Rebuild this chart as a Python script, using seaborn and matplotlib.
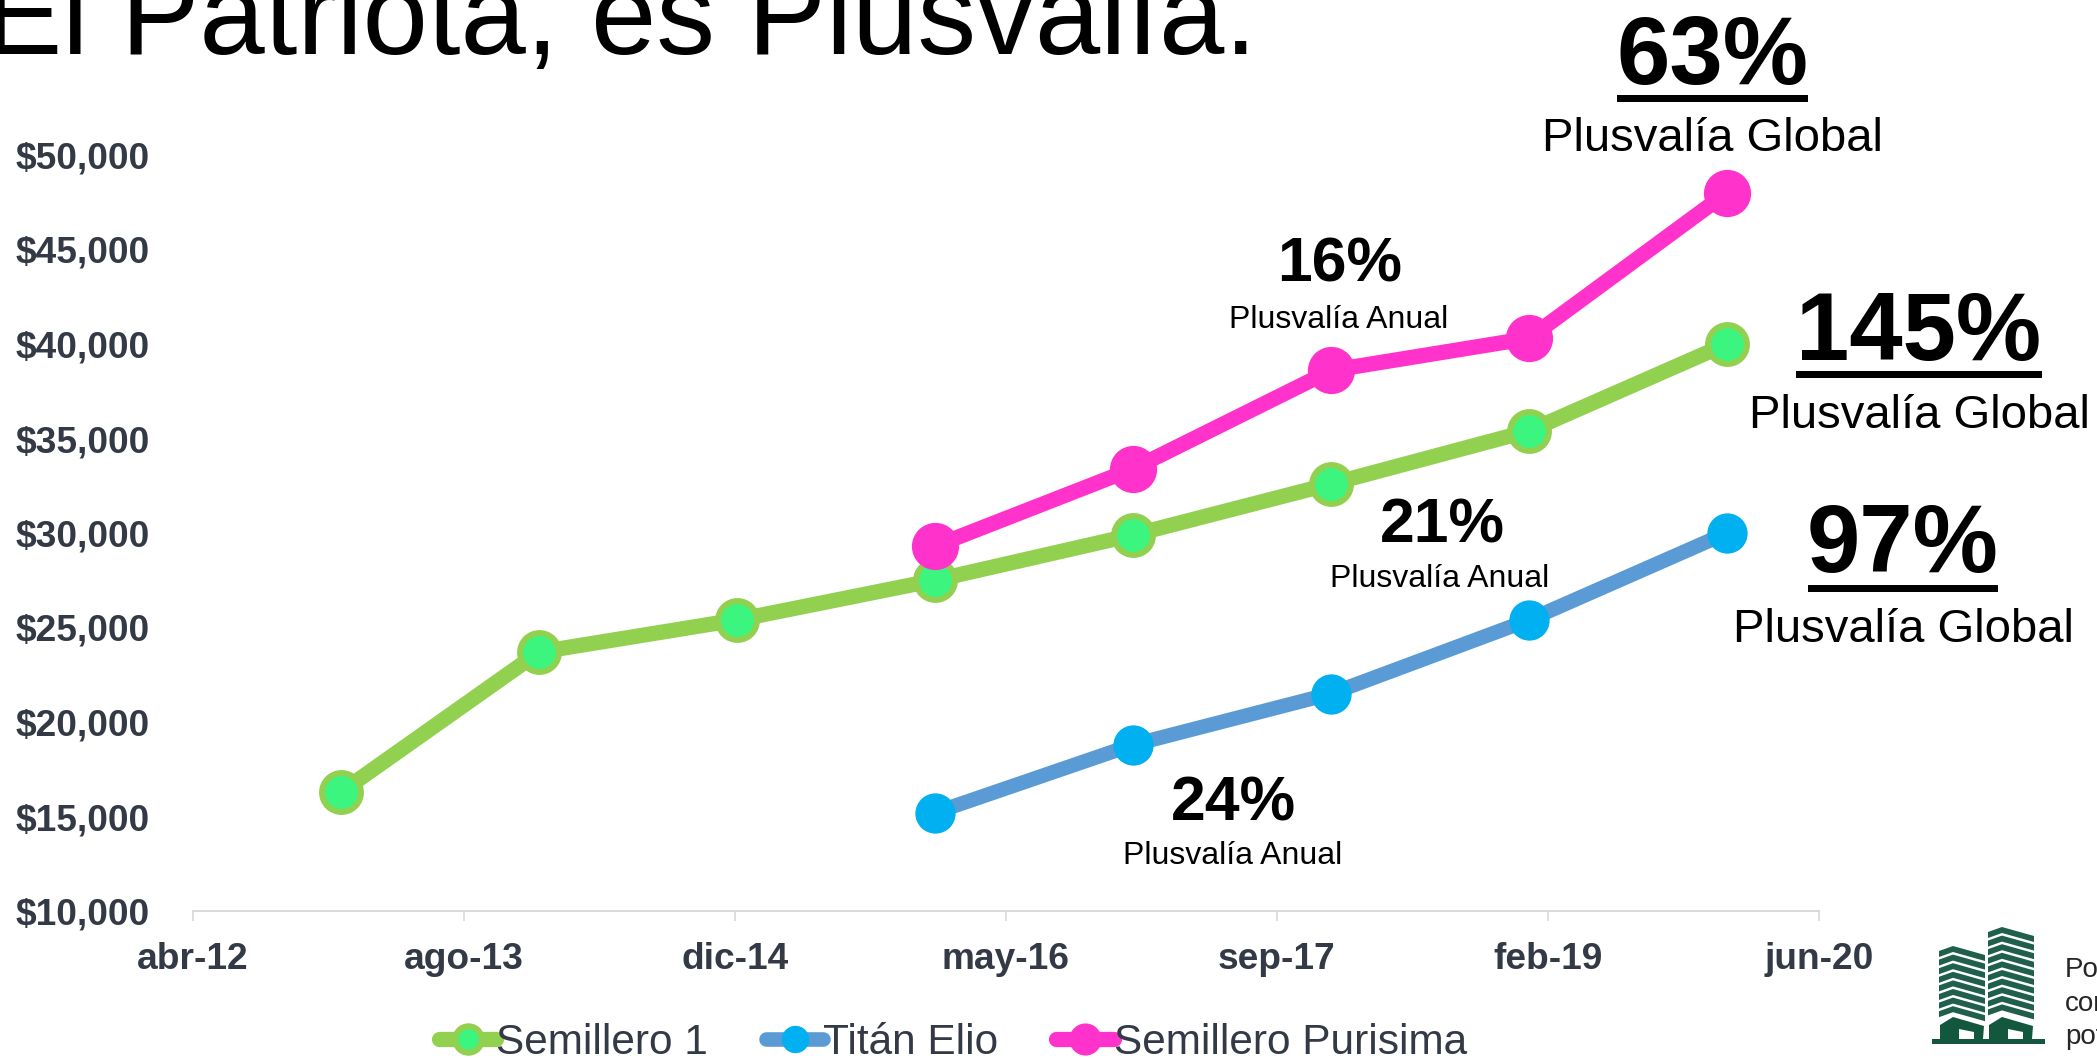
import pandas as pd
import matplotlib.pyplot as plt
import seaborn as sns
from matplotlib.patches import Polygon, Rectangle

# Yearly prices per project
dates = ["2013-01-01", "2014-01-01", "2015-01-01", "2016-01-01", "2017-01-01", "2018-01-01", "2019-01-01", "2020-01-01"]
semillero = [16300, 23700, 25400, 27500, 29900, 32600, 35400, 40000]
titan = [15200, 18800, 21500, 25400, 30000]
purisima = [29300, 33400, 38600, 40300, 48000]

y_ticks = [10000, 15000, 20000, 25000, 30000, 35000, 40000, 45000, 50000]
y_labels = ["$10,000", "$15,000", "$20,000", "$25,000", "$30,000", "$35,000", "$40,000", "$45,000", "$50,000"]
x_labels = ["abr-12", "ago-13", "dic-14", "may-16", "sep-17", "feb-19", "jun-20"]

sns.set_style("white")
plt.rcParams["font.family"] = ["Liberation Sans", "DejaVu Sans"]

W, H = 2097, 1058
TICK_COLOR = "#333a45"
fig = plt.figure(figsize=(W / 100, H / 100), dpi=100)
ax = fig.add_axes([192.6 / W, 1 - 911 / H, (1819 - 192.6) / W, (911 - 155) / H])

# Lines
semillero_df = pd.DataFrame({"date": pd.to_datetime(dates), "price": semillero})
titan_df = pd.DataFrame({"date": pd.to_datetime(dates[3:]), "price": titan})
purisima_df = pd.DataFrame({"date": pd.to_datetime(dates[3:]), "price": purisima})

sns.lineplot(data=semillero_df, x="date", y="price", ax=ax, color="#92d050", linewidth=11, marker="o",
             markersize=28, markerfacecolor="#3cf57f", markeredgecolor="#92d050", markeredgewidth=4.3,
             label="Semillero 1", errorbar=None)
sns.lineplot(data=titan_df, x="date", y="price", ax=ax, color="#5b9bd5", linewidth=10.5, marker="o",
             markersize=29, markerfacecolor="#00b0f0", markeredgecolor="#00b0f0", markeredgewidth=0,
             label="Titán Elio", errorbar=None)
sns.lineplot(data=purisima_df, x="date", y="price", ax=ax, color="#ff33cc", linewidth=11, marker="o",
             markersize=34, markerfacecolor="#ff33cc", markeredgecolor="#ff33cc", markeredgewidth=0,
             label="Semillero Purisima", errorbar=None)

# Axes
x_ticks = pd.date_range("2012-04-02", periods=len(x_labels), freq="500D")
ax.set_xlim(x_ticks[0], x_ticks[-1])
ax.set_ylim(10000, 50000)
ax.set_xticks(x_ticks)
ax.set_xticklabels(x_labels, fontsize=26.7, fontweight="bold", color=TICK_COLOR)
ax.set_yticks(y_ticks)
ax.set_yticklabels(y_labels, fontsize=26.7, fontweight="bold", color=TICK_COLOR)
ax.set_xlabel("")
ax.set_ylabel("")
ax.patch.set_alpha(0)
ax.tick_params(axis="x", length=7, width=1.2, color="#d9d9d9", pad=15, bottom=True)
ax.tick_params(axis="y", length=0, pad=31)
sns.despine(ax=ax, left=True)
ax.spines["bottom"].set_color("#d9d9d9")
ax.spines["bottom"].set_linewidth(1.4)

leg = ax.legend(loc="center left", bbox_to_anchor=(439 / W, 1 - 1043 / H), bbox_transform=fig.transFigure,
                ncol=3, frameon=False, fontsize=30.5, markerscale=0.68, handlelength=1.35, handletextpad=0,
                columnspacing=1.37, borderpad=0, borderaxespad=0)
for t in leg.get_texts():
    t.set_color(TICK_COLOR)

# Overlay in pixel coordinates for the slide text and logo
over = fig.add_axes([0, 0, 1, 1])
over.set_xlim(0, W)
over.set_ylim(H, 0)
over.axis("off")

over.text(1257, 54, "El Patriota, es Plusvalía.", fontsize=84.5, ha="right", va="baseline", color="black")

big_labels = [(1712, 59, "63%", 69), (1919, 335, "145%", 69), (1903, 547, "97%", 69)]
for x, y, s, size in big_labels:
    over.text(x, y, s, fontsize=size, fontweight="bold", ha="center", va="center", color="black")
underlines = [(1617, 1808, 98), (1796, 2042, 374), (1808, 1998, 588)]
for x0, x1, y in underlines:
    over.add_patch(Rectangle((x0, y - 3.5), x1 - x0, 7, color="black", lw=0))
for x, y in [(1712, 139), (1919, 416), (1903, 630)]:
    over.text(x, y, "Plusvalía Global", fontsize=34, ha="center", va="center", color="black")

for x, y, s in [(1340, 265, "16%"), (1442, 526, "21%"), (1233, 804, "24%")]:
    over.text(x, y, s, fontsize=45, fontweight="bold", ha="center", va="center", color="black")
for x, y in [(1339, 320), (1440, 579), (1233, 856)]:
    over.text(x, y, "Plusvalía Anual", fontsize=23, ha="center", va="center", color="black")

# Logo: two towers
GREEN = "#14573f"
over.add_patch(Rectangle((1932, 1039), 113, 5, color=GREEN, lw=0))
for left, top, floors in [(1939, 946, 8), (1988, 927, 10)]:
    for i in range(floors):
        y = top + i * 8.6
        over.add_patch(Polygon([(left, y + 5), (left + 14, y), (left + 46, y + 9), (left + 46, y + 15),
                                (left + 14, y + 6), (left, y + 11)], color="#1f5f4b", lw=0))
for left in [1939, 1988]:
    over.add_patch(Polygon([(left + 1, 1025), (left + 14, 1017), (left + 45, 1026), (left + 44, 1039),
                            (left + 35, 1039), (left + 35, 1032), (left + 20, 1029), (left + 20, 1039),
                            (left + 1, 1039)], color=GREEN, lw=0))

# Text cut by the slide edge
for y, s in [(970, "Po"), (1004, "con"), (1037, "pot")]:
    over.text(2065, y, s, fontsize=20, ha="left", va="center", color="#262626")

plt.savefig("out.png", dpi=100)
plt.close()
